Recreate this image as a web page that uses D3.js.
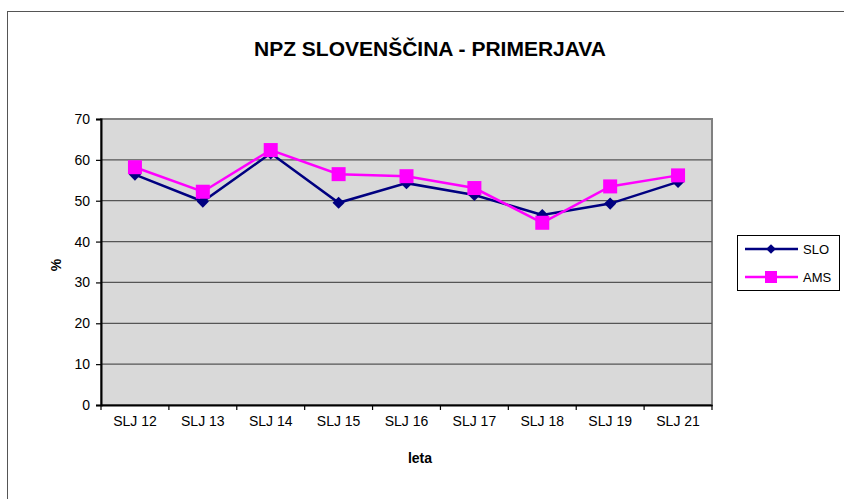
<!DOCTYPE html>
<html>
<head>
<meta charset="utf-8">
<script src="https://cdn.jsdelivr.net/npm/d3@7"></script>
<style>
  body { margin: 0; background: #fff; }
  text { font-family: "Liberation Sans", Arial, sans-serif; }
</style>
</head>
<body>
<svg id="chart" width="844" height="499"></svg>
<script>
var categories = ["SLJ 12", "SLJ 13", "SLJ 14", "SLJ 15", "SLJ 16", "SLJ 17", "SLJ 18", "SLJ 19", "SLJ 21"];
var sloValues = [56.4, 49.8, 61.6, 49.5, 54.3, 51.4, 46.5, 49.3, 54.6];
var amsValues = [58.2, 52.2, 62.4, 56.5, 56.0, 53.1, 44.6, 53.5, 56.2];
var yTicks = [0, 10, 20, 30, 40, 50, 60, 70];

var svg = d3.select("#chart");

// outer frame of the chart
svg.append("rect")
  .attr("x", 7.5).attr("y", 11.5)
  .attr("width", 860).attr("height", 500)
  .attr("fill", "none")
  .attr("stroke", "#555")
  .attr("stroke-width", 1);

var plotLeft = 101, plotRight = 712, plotTop = 119, plotBottom = 405;

var x = d3.scaleBand().domain(categories).range([plotLeft, plotRight]);
var y = d3.scaleLinear().domain([0, 70]).range([plotBottom, plotTop]);

// plot background
svg.append("rect")
  .attr("x", plotLeft).attr("y", plotTop)
  .attr("width", plotRight - plotLeft).attr("height", plotBottom - plotTop)
  .attr("fill", "#d9d9d9")
  .attr("stroke", "#808080")
  .attr("stroke-width", 2);

// gridlines
svg.append("g").selectAll("line").data(yTicks.slice(1, -1)).enter().append("line")
  .attr("x1", plotLeft).attr("x2", plotRight)
  .attr("y1", function(d){ return y(d); })
  .attr("y2", function(d){ return y(d); })
  .attr("stroke", "#555")
  .attr("stroke-width", 1.2);

// y axis
var yAxis = svg.append("g")
  .attr("transform", "translate(" + plotLeft + ",0)")
  .call(d3.axisLeft(y).tickValues(yTicks).tickSize(5).tickPadding(6));
yAxis.select(".domain").attr("stroke", "#000").attr("stroke-width", 2);
yAxis.selectAll(".tick line").attr("stroke", "#000").attr("stroke-width", 1.2);
yAxis.selectAll("text").attr("font-size", 14).attr("fill", "#000")
  .attr("font-family", "Liberation Sans, Arial, sans-serif");

// x axis
var xAxis = svg.append("g")
  .attr("transform", "translate(0," + plotBottom + ")")
  .call(d3.axisBottom(x).tickSize(0).tickPadding(11));
xAxis.select(".domain").attr("stroke", "#000").attr("stroke-width", 2);
xAxis.selectAll("text").attr("font-size", 14).attr("fill", "#000")
  .attr("font-family", "Liberation Sans, Arial, sans-serif");

// category boundary ticks
var bounds = categories.map(function(c){ return x(c); }).concat([plotRight]);
svg.append("g").selectAll("line").data(bounds).enter().append("line")
  .attr("x1", function(d){ return d; }).attr("x2", function(d){ return d; })
  .attr("y1", plotBottom).attr("y2", plotBottom + 5)
  .attr("stroke", "#000").attr("stroke-width", 1.2);

function cx(d, i) { return x(categories[i]) + x.bandwidth() / 2; }

var line = d3.line()
  .x(function(d, i){ return cx(d, i); })
  .y(function(d){ return y(d); });

// SLO series
svg.append("path").datum(sloValues)
  .attr("d", line)
  .attr("fill", "none")
  .attr("stroke", "#000080")
  .attr("stroke-width", 2.5);
svg.append("g").selectAll("path").data(sloValues).enter().append("path")
  .attr("d", d3.symbol().type(d3.symbolDiamond2).size(95))
  .attr("transform", function(d, i){ return "translate(" + cx(d, i) + "," + y(d) + ")"; })
  .attr("fill", "#000080");

// AMS series
svg.append("path").datum(amsValues)
  .attr("d", line)
  .attr("fill", "none")
  .attr("stroke", "#ff00ff")
  .attr("stroke-width", 2.5);
svg.append("g").selectAll("rect").data(amsValues).enter().append("rect")
  .attr("x", function(d, i){ return cx(d, i) - 7; })
  .attr("y", function(d){ return y(d) - 7; })
  .attr("width", 14).attr("height", 14)
  .attr("fill", "#ff00ff");

// title and axis titles
svg.append("text")
  .attr("x", 430).attr("y", 56)
  .attr("text-anchor", "middle")
  .attr("font-size", 21).attr("font-weight", "bold")
  .text("NPZ SLOVENŠČINA - PRIMERJAVA");

svg.append("text")
  .attr("x", 420).attr("y", 463)
  .attr("text-anchor", "middle")
  .attr("font-size", 14).attr("font-weight", "bold")
  .text("leta");

svg.append("text")
  .attr("transform", "translate(61,265) rotate(-90)")
  .attr("text-anchor", "middle")
  .attr("font-size", 14).attr("font-weight", "bold")
  .text("%");

// legend
var legend = svg.append("g");
legend.append("rect")
  .attr("x", 737.5).attr("y", 235.5)
  .attr("width", 102).attr("height", 55)
  .attr("fill", "#fff")
  .attr("stroke", "#000").attr("stroke-width", 1);

var legendItems = [
  {name: "SLO", color: "#000080", y: 249},
  {name: "AMS", color: "#ff00ff", y: 277}
];
legendItems.forEach(function(it){
  legend.append("line")
    .attr("x1", 745).attr("x2", 798)
    .attr("y1", it.y).attr("y2", it.y)
    .attr("stroke", it.color).attr("stroke-width", 2.5);
  legend.append("text")
    .attr("x", 803).attr("y", it.y + 5)
    .attr("font-size", 13)
    .text(it.name);
});
legend.append("path")
  .attr("d", d3.symbol().type(d3.symbolDiamond2).size(60))
  .attr("transform", "translate(771," + legendItems[0].y + ")")
  .attr("fill", "#000080");
legend.append("rect")
  .attr("x", 765).attr("y", legendItems[1].y - 6)
  .attr("width", 12).attr("height", 12)
  .attr("fill", "#ff00ff");
</script>
</body>
</html>
